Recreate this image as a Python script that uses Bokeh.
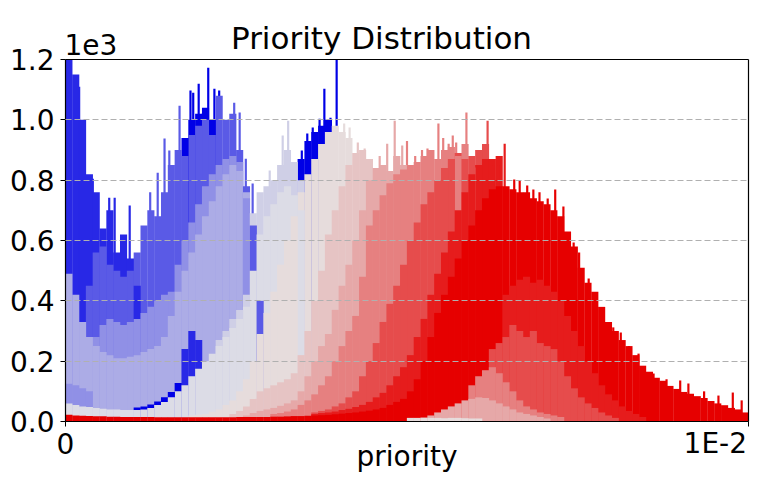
from bokeh.plotting import figure
from bokeh.models import ColumnDataSource, FixedTicker, Label, Range1d
from bokeh.embed import file_html
from bokeh.resources import INLINE

# ---------------- data (counts per bin, bin width 1e-4 on priority) ----------------
BIN_WIDTH = 1e-4
SPIKE_WIDTH = 3.2e-5
X_MAX = 0.01
Y_MAX = 1200

COLORS = ["#0000e6", "#2828e6", "#5a5ae6", "#9090e6", "#acace6", "#cfcfe6", "#dcdce6",
          "#e6dcdc", "#e6c4c4", "#e6a8a8", "#e68080", "#e64c4c", "#e61c1c", "#e60000"]

s00_start = 10
s00 = [46, 50, 56, 66, 80, 98, 128, 940, 1000, 1020, 1040, 1000, 0, 0,
       0, 0, 0, 0, 0, 0, 0, 0, 0, 0, 870, 930, 960, 980, 1000]
s01_start = 0
s01 = [1500, 1150, 1000, 820, 760, 640, 700, 560, 620, 540, 450, 0, 0, 0, 0,
       0, 0, 240, 300, 270]
s02_start = 3
s02 = [450, 560, 580, 520, 500, 480, 500, 560, 650, 700, 680, 760, 850, 900, 880,
       950, 980, 1000, 950, 1080, 1000, 1020, 900, 780, 650, 400]
s03_start = 0
s03 = [125, 120, 110, 100, 280, 320, 340, 330, 320, 330, 340, 360, 380, 400, 420,
       430, 520, 600, 660, 720, 780, 820, 850, 870, 880, 860, 740]
s04_start = 0
s04 = [490, 420, 330, 280, 250, 230, 220, 210, 210, 215, 220, 230, 240, 250, 280,
       350, 430, 500, 560, 620, 680, 730, 780, 820, 850, 830, 760]
s05_start = 22
s05 = [270, 300, 340, 370, 420, 690, 760, 780, 800, 850, 900, 860, 800]
s06_start = 0
s06 = [60, 55, 50, 48, 45, 42, 40, 40, 38, 38, 38, 40, 45, 55, 65, 80, 100, 120,
       150, 175, 200, 225, 250, 280, 310, 340, 380, 500, 620, 680, 720, 760, 780,
       750, 700]
s07_start = 18
s07 = [20, 22, 25, 32, 40, 55, 70, 100, 140, 200, 290, 360, 430, 520, 600, 680,
       760, 820, 870, 920, 960, 980, 960, 940, 0, 0, 0, 0, 0, 0, 0, 0,
       12, 12, 13, 12, 12, 11, 12, 12, 11, 10, 10]
s08_start = 24
s08 = [25, 35, 50, 75, 100, 110, 120, 130, 140, 160, 220, 300, 400, 500, 620, 700,
       780, 850, 890, 900, 870]
s09_start = 26
s09 = [20, 28, 35, 40, 45, 52, 60, 70, 100, 150, 200, 250, 290, 370, 450, 520,
       600, 700, 800, 840, 850, 830, 880, 850, 0, 0, 0, 20, 30, 40, 50, 60, 70,
       75, 80, 78, 70, 60, 50, 40, 30, 25, 20, 15, 10]
s10_start = 30
s10 = [25, 28, 33, 40, 55, 70, 90, 120, 150, 200, 250, 300, 350, 480, 650, 700,
       750, 790, 820, 835, 850, 860, 880, 900, 870, 900, 910, 880, 920, 120, 150,
       170, 180, 160, 130, 100, 70, 50, 40, 30, 25, 20, 15]
s11_start = 36
s11 = [30, 35, 40, 50, 60, 80, 100, 150, 200, 260, 330, 390, 450, 520, 600, 660,
       720, 760, 800, 840, 870, 890, 870, 880, 900, 920, 240, 260, 280, 320, 300,
       280, 300, 260, 250, 240, 200, 150, 110, 80, 60, 45, 30, 20, 12]
s12_start = 36
s12 = [25, 28, 30, 33, 38, 42, 48, 55, 65, 80, 95, 120, 150, 180, 220, 280, 340,
       420, 490, 560, 630, 700, 760, 820, 850, 870, 870, 880, 420, 450, 470, 480,
       460, 470, 450, 430, 400, 350, 300, 250, 200, 160, 120, 90, 70, 50, 35, 25, 15]
s13_start = 0
s13 = [22, 20, 19, 18, 17, 17, 16, 16, 15, 15, 15, 15, 15, 14, 14, 14, 14, 14, 14,
       14, 14, 14, 14, 14, 14, 15, 15, 15, 15, 15, 16, 16, 17, 18, 18, 19,
       20, 21, 22, 24, 26, 28, 30, 33, 36, 40, 45, 55, 65, 75, 100, 140, 200, 280,
       360, 420, 480, 540, 600, 650, 700, 740, 770, 780,
       780, 770, 760, 760, 740, 730, 720, 700, 680, 630, 580, 510, 460, 430, 380,
       330, 300, 270, 250, 220, 185, 165, 145, 135, 118, 108, 98, 92, 84, 78, 68,
       60, 54, 45, 40, 30]

SERIES = [(s00_start, s00), (s01_start, s01), (s02_start, s02), (s03_start, s03),
          (s04_start, s04), (s05_start, s05), (s06_start, s06), (s07_start, s07),
          (s08_start, s08), (s09_start, s09), (s10_start, s10), (s11_start, s11),
          (s12_start, s12), (s13_start, s13)]

# single narrow bins that stick out above the envelope (priority, count, series)
spike_priority = [0.00020, 0.00040, 0.00064, 0.00072, 0.00094, 0.00124, 0.00135, 0.00145,
                  0.00152, 0.00167, 0.00183, 0.00187, 0.00195, 0.00201, 0.00209, 0.00218,
                  0.00225, 0.00247, 0.00255, 0.00264, 0.00274, 0.00299, 0.00318, 0.00326,
                  0.00346, 0.00354, 0.00362, 0.00372, 0.00379, 0.00388, 0.00397, 0.00408,
                  0.00416, 0.00428, 0.00438, 0.00460, 0.00471, 0.00482, 0.00493, 0.00500,
                  0.00512, 0.00522, 0.00530, 0.00546, 0.00553, 0.00561, 0.00567, 0.00572,
                  0.00587, 0.00599, 0.00609, 0.00618, 0.00627, 0.00634, 0.00643, 0.00657,
                  0.00665, 0.00676, 0.00685, 0.00694, 0.00706, 0.00717, 0.00729, 0.00744,
                  0.00752, 0.00766, 0.00773, 0.00783, 0.00802, 0.00813, 0.00825, 0.00839,
                  0.00861, 0.00880, 0.00900, 0.00912, 0.00935, 0.00956, 0.00977, 0.00990]
spike_count = [1110, 805, 742, 742, 716, 760, 825, 938,
               898, 1047, 1097, 1090, 1120, 1020, 1173, 1103,
               1097, 1057, 1024, 871, 789, 832, 948, 997,
               898, 955, 975, 1004, 1103, 1007, 1203, 988,
               975, 925, 905, 880, 921, 997, 915, 930,
               880, 900, 905, 988, 940, 921, 948, 925,
               1024, 842, 891, 997, 848, 848, 921, 802,
               800, 782, 769, 760, 739, 769, 713, 593,
               560, 474, 394, 312, 312, 295, 250, 225,
               159, 140, 136, 126, 100, 86, 96, 70]
spike_series = [1, 1, 1, 1, 1, 2, 2, 2,
                2, 2, 0, 0, 0, 0, 0, 0,
                0, 2, 2, 2, 2, 5, 5, 5,
                0, 0, 0, 0, 0, 0, 0, 7,
                7, 8, 8, 9, 9, 9, 9, 10,
                10, 10, 10, 10, 10, 10, 10, 10,
                10, 11, 11, 11, 12, 12, 12, 13,
                13, 13, 13, 13, 13, 13, 13, 13,
                13, 13, 13, 13, 13, 13, 13, 13,
                13, 13, 13, 13, 13, 13, 13, 13]

Y_TICKS = [0, 200, 400, 600, 800, 1000, 1200]
Y_TICK_LABELS = ["0.0", "0.2", "0.4", "0.6", "0.8", "1.0", "1.2"]
X_TICKS = [0, 0.01]
X_TICK_LABELS = ["0", "1E-2"]
TITLE = "Priority Distribution"
X_LABEL = "priority"
Y_OFFSET_TEXT = "1e3"

# ---------------- layout: the frame fills the canvas, axes sit at data 0 ----------------
W, H = 762, 489
FRAME_L, FRAME_R, FRAME_T, FRAME_B = 65, 748, 59, 421   # where x=0..X_MAX, y=0..Y_MAX lie
XPX = X_MAX / (FRAME_R - FRAME_L)
YPX = Y_MAX / (FRAME_B - FRAME_T)

def dx(px):
    return (px - FRAME_L) * XPX

def dy(py):
    return (FRAME_B - py) * YPX

# ---------------- bars: at every position the taller bars are drawn behind ----------------
rows = []
for k, (start, vals) in enumerate(SERIES):
    for j, v in enumerate(vals):
        if v > 0:
            rows.append(((start + j + 0.5) * BIN_WIDTH, v, COLORS[k], BIN_WIDTH * 1.04))
for xv, v, k in zip(spike_priority, spike_count, spike_series):
    rows.append((xv, v, COLORS[k], SPIKE_WIDTH))
rows.sort(key=lambda r: -r[1])
src = ColumnDataSource(dict(x=[r[0] for r in rows],
                            top=[min(r[1], Y_MAX) for r in rows],   # view is cut at Y_MAX
                            color=[r[2] for r in rows],
                            w=[r[3] for r in rows]))

FONT = "DejaVu Sans"
p = figure(width=W, height=H, x_range=Range1d(dx(0), dx(W)), y_range=Range1d(dy(H), dy(0)),
           output_backend="svg", toolbar_location=None,
           min_border_left=0, min_border_right=0, min_border_top=0, min_border_bottom=0)
p.background_fill_color = "white"
p.border_fill_color = "white"
p.outline_line_color = None

p.vbar(x="x", top="top", bottom=0, width="w", fill_color="color",
       line_color=None, source=src)

# y axis at x = 0
p.yaxis.fixed_location = 0
p.yaxis.bounds = (Y_TICKS[0], Y_TICKS[-1])
p.yaxis.ticker = FixedTicker(ticks=Y_TICKS)
p.yaxis.major_label_overrides = {t: s for t, s in zip(Y_TICKS, Y_TICK_LABELS)}
p.yaxis.major_label_text_font = FONT
p.yaxis.major_label_text_font_size = "28px"
p.yaxis.major_label_text_color = "black"
p.yaxis.major_label_standoff = 6
p.yaxis.major_tick_in = 0
p.yaxis.major_tick_out = 5
p.yaxis.minor_tick_line_color = None
p.yaxis.axis_line_color = "black"
p.yaxis.axis_line_width = 1.2
p.yaxis.major_tick_line_color = "black"

# x axis at y = 0 (its two labels are placed as text below)
p.xaxis.fixed_location = 0
p.xaxis.bounds = (X_TICKS[0], X_TICKS[-1])
p.xaxis.ticker = FixedTicker(ticks=X_TICKS)
p.xaxis.major_label_text_color = None
p.xaxis.major_tick_in = 0
p.xaxis.major_tick_out = 5
p.xaxis.minor_tick_line_color = None
p.xaxis.axis_line_color = "black"
p.xaxis.axis_line_width = 1.2
p.xaxis.major_tick_line_color = "black"

# top and right spines
p.segment(x0=[X_TICKS[0], X_TICKS[-1]], y0=[Y_TICKS[-1], Y_TICKS[0]],
          x1=[X_TICKS[-1], X_TICKS[-1]], y1=[Y_TICKS[-1], Y_TICKS[-1]],
          line_color="black", line_width=1.2)

p.xgrid.visible = False
p.ygrid.ticker = FixedTicker(ticks=Y_TICKS[1:-1])
p.ygrid.cross_bounds = (X_TICKS[0], X_TICKS[-1])
p.ygrid.grid_line_color = "#b0b0b0"
p.ygrid.grid_line_dash = "6 3"
p.ygrid.grid_line_width = 1
p.ygrid.level = "overlay"

def add_label(text, x, y, size, align="center"):
    p.add_layout(Label(x=x, y=y, text=text, text_font=FONT, text_font_size=size,
                       text_color="black", text_align=align, text_baseline="alphabetic"))

add_label(TITLE, dx(381), dy(37.5), "31px")
add_label(Y_OFFSET_TEXT, dx(64), dy(44.3), "28px", "left")
add_label(X_LABEL, dx(406.5), dy(455.5), "28px")
add_label(X_TICK_LABELS[0], X_TICKS[0], dy(443), "28px")
add_label(X_TICK_LABELS[1], dx(746.5), dy(443), "28px", "right")

open("out.html", "w").write(file_html(p, INLINE))
